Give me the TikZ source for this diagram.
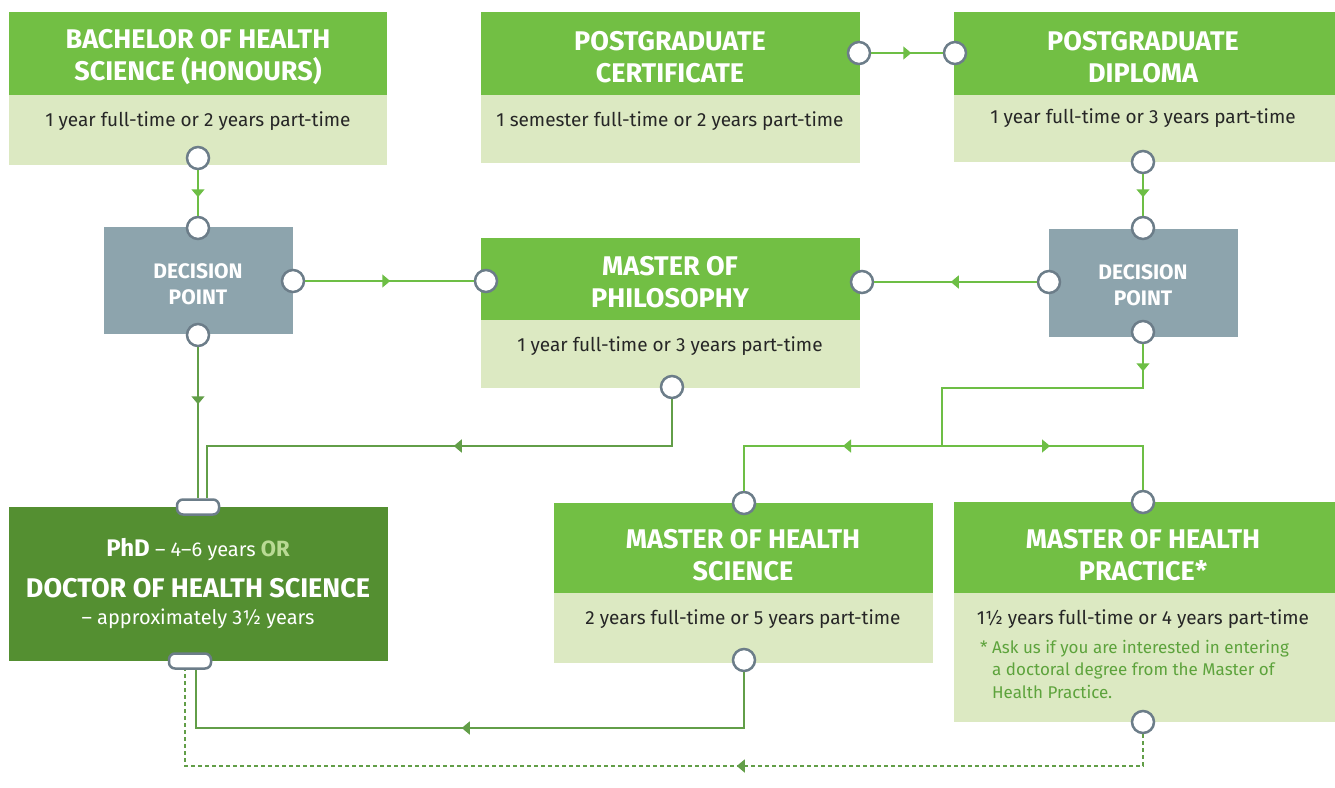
\documentclass[tikz,border=0pt]{standalone}
\usepackage{fontspec}
\setmainfont{Fira Sans}
\usetikzlibrary{arrows.meta,decorations.markings}
\definecolor{hdrG}{HTML}{72BF44}
\definecolor{bodyG}{HTML}{DCE9C2}
\definecolor{decG}{HTML}{8DA4AD}
\definecolor{phdG}{HTML}{548F31}
\definecolor{portC}{HTML}{6C7D89}
\definecolor{lineA}{HTML}{6DBE45}
\definecolor{lineB}{HTML}{629E48}
\definecolor{txtC}{HTML}{262626}
\definecolor{orC}{HTML}{B9DA94}
\definecolor{noteC}{HTML}{5DA33C}
\tikzset{
  hdrbox/.style={fill=hdrG, anchor=north west, inner sep=0pt, outer sep=0pt},
  bodybox/.style={fill=bodyG, anchor=north west, inner sep=0pt, outer sep=0pt},
  decbox/.style={fill=decG, anchor=north west, inner sep=0pt, outer sep=0pt},
  phdbox/.style={fill=phdG, anchor=north west, inner sep=0pt, outer sep=0pt},
  hdrtext/.style={text=white, align=center, inner sep=0pt, font=\fontsize{27}{32}\selectfont\bfseries},
  dectext/.style={text=white, align=center, inner sep=0pt, font=\fontsize{21}{26}\selectfont\bfseries},
  bodytext/.style={text=txtC, inner sep=0pt, font=\fontsize{19}{22}\selectfont},
  port/.style={circle, draw=portC, line width=2.5pt, fill=white, minimum size=22pt, inner sep=0pt},
  pill/.style={rectangle, rounded corners=6pt, draw=portC, line width=2.5pt, fill=white, minimum width=42pt, minimum height=15pt, inner sep=0pt},
  conA/.style={color=lineA, line width=1.5pt},
  conB/.style={color=lineB, line width=1.5pt},
  dashcon/.style={color=lineB, line width=1.5pt, dash pattern=on 4pt off 3pt},
  arrowat/.style={postaction={decorate}, decoration={markings, mark=at position #1 with {\arrow{Triangle[length=8pt,width=13pt]}}}}
}
\begin{document}
\begin{tikzpicture}[x=1pt,y=-1pt]
\useasboundingbox (0,0) rectangle (1335,787);
\fill[white] (0,0) rectangle (1335,787);

% boxes
\node[hdrbox, minimum width=378pt, minimum height=83pt] (bachH) at (9,12) {};
\node[bodybox, minimum width=378pt, minimum height=70pt] (bachB) at (9,95) {};
\node[hdrbox, minimum width=379pt, minimum height=83pt] (pcH) at (481,12) {};
\node[bodybox, minimum width=379pt, minimum height=68pt] (pcB) at (481,95) {};
\node[hdrbox, minimum width=381pt, minimum height=83pt] (pdH) at (954,12) {};
\node[bodybox, minimum width=381pt, minimum height=67pt] (pdB) at (954,95) {};
\node[decbox, minimum width=189pt, minimum height=107pt] (d1) at (104,227) {};
\node[decbox, minimum width=189pt, minimum height=108pt] (d2) at (1049,229) {};
\node[hdrbox, minimum width=379pt, minimum height=82pt] (mpH) at (481,238) {};
\node[bodybox, minimum width=379pt, minimum height=68pt] (mpB) at (481,320) {};
\node[phdbox, minimum width=379pt, minimum height=154pt] (phd) at (9,507) {};
\node[hdrbox, minimum width=379pt, minimum height=90pt] (mhsH) at (554,503) {};
\node[bodybox, minimum width=379pt, minimum height=70pt] (mhsB) at (554,593) {};
\node[hdrbox, minimum width=381pt, minimum height=91pt] (mhpH) at (954,502) {};
\node[bodybox, minimum width=381pt, minimum height=129pt] (mhpB) at (954,593) {};

% texts
\node[hdrtext] (bachT) at (198,57) {BACHELOR OF HEALTH\\SCIENCE (HONOURS)};
\node[hdrtext] (pcT) at (670,57) {POSTGRADUATE\\CERTIFICATE};
\node[hdrtext] (pdT) at (1143,57) {POSTGRADUATE\\DIPLOMA};
\node[hdrtext] (mpT) at (670,282) {MASTER OF\\PHILOSOPHY};
\node[hdrtext] (mhsT) at (743,555) {MASTER OF HEALTH\\SCIENCE};
\node[hdrtext] (mhpT) at (1143,555) {MASTER OF HEALTH\\PRACTICE*};
\node[dectext] (d1T) at (198,284) {DECISION\\POINT};
\node[dectext] (d2T) at (1143,285) {DECISION\\POINT};

\node[bodytext] (bachD) at (198,121) {1 year full-time or 2 years part-time};
\node[bodytext] (pcD) at (670,121) {1 semester full-time or 2 years part-time};
\node[bodytext] (pdD) at (1143,118) {1 year full-time or 3 years part-time};
\node[bodytext] (mpD) at (670,346) {1 year full-time or 3 years part-time};
\node[bodytext] (mhsD) at (743,619) {2 years full-time or 5 years part-time};
\node[bodytext] (mhpD) at (1143,619) {1½ years full-time or 4 years part-time};

\node[text=white, inner sep=0pt] (phdL1) at (198,550) {\fontsize{24}{28}\selectfont\bfseries PhD\mdseries\fontsize{20}{24}\selectfont{} – 4–6 years \bfseries\fontsize{22}{24}\selectfont\color{orC}OR};
\node[text=white, inner sep=0pt, font=\fontsize{27}{32}\selectfont\bfseries] (phdL2) at (198,588) {DOCTOR OF HEALTH SCIENCE};
\node[text=white, inner sep=0pt, font=\fontsize{20}{24}\selectfont] (phdL3) at (198,619) {– approximately 3½ years};

\node[anchor=north west, align=left, inner sep=0pt, text=noteC, font=\fontsize{17}{22.5}\selectfont] (note) at (980,640) {* Ask us if you are interested in entering\\\hphantom{* }a doctoral degree from the Master of\\\hphantom{* }Health Practice.};

% ports
\node[port] (b1) at (198,158) {};
\node[port] (d1n) at (198,228) {};
\node[port] (d1e) at (293,281) {};
\node[port] (d1s) at (198,335) {};
\node[port] (mpw) at (486,281) {};
\node[port] (mpe) at (862,282) {};
\node[port] (mps) at (672,387) {};
\node[port] (pce) at (859,53) {};
\node[port] (pdw) at (955,53) {};
\node[port] (pds) at (1143,162) {};
\node[port] (d2n) at (1143,228) {};
\node[port] (d2w) at (1049,282) {};
\node[port] (d2s) at (1143,332) {};
\node[port] (mhsn) at (744,503) {};
\node[port] (mhss) at (744,660) {};
\node[port] (mhpn) at (1143,502) {};
\node[port] (mhps) at (1143,722) {};
\node[pill] (phdT) at (198,507) {};
\node[pill] (phdB) at (190,661) {};

\coordinate (j1) at (942,388);
\coordinate (j2) at (942,446);
\coordinate (j3) at (207,446);
\coordinate (j4) at (196,728);
\coordinate (j5) at (185,766);

% connectors
\draw[conA, arrowat=27pt] (b1) -- (d1n);
\draw[conA, arrowat=85pt] (d1e) -- (mpw);
\draw[conA, arrowat=40pt] (pce) -- (pdw);
\draw[conA, arrowat=23pt] (pds) -- (d2n);
\draw[conA, arrowat=86pt] (d2w) -- (mpe);
\draw[conA, arrowat=27pt] (d2s) |- (j1) -- (j2);
\draw[conA, arrowat=99pt] (j2) -| (mhsn);
\draw[conA, arrowat=108pt] (j2) -| (mhpn);
\draw[conB, arrowat=57pt] (d1s) -- (phdT);
\draw[conB, arrowat=265pt] (mps) |- (j3) -- (j3 |- phdT.north);
\draw[conB, arrowat=338pt] (mhss) |- (j4) -- (j4 |- phdB.south);
\draw[dashcon, arrowat=438pt] (mhps) |- (j5) -- (j5 |- phdB.south);
\end{tikzpicture}
\end{document}
